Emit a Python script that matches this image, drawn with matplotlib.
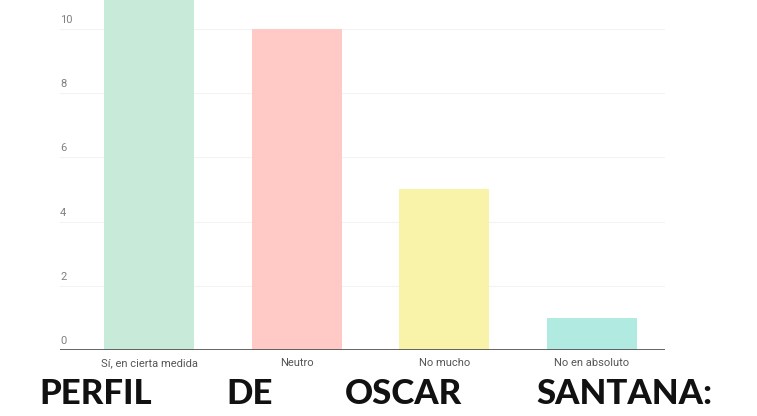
import matplotlib
matplotlib.use("Agg")
import matplotlib.pyplot as plt
import matplotlib.transforms as mtransforms

categories = ["Sí, en cierta medida", "Neutro", "No mucho", "No en absoluto"]
values = [11, 10, 5, 1]
colors = ["#C8EAD9", "#FFC9C5", "#F9F3A9", "#B0EAE0"]
yticks = [0, 2, 4, 6, 8, 10]
title_words = ["PERFIL", "DE", "OSCAR", "SANTANA:"]

W, H = 757, 416
fig = plt.figure(figsize=(W / 100, H / 100), dpi=100)
ax = fig.add_axes([60 / W, 1 - 350 / H, (665 - 60) / W, 350 / H])

x = list(range(len(categories)))
ax.bar(x, values, width=0.61, color=colors, zorder=2)
ax.set_xlim(-0.603, 3.496)
ax.set_ylim(0, 10.9)

for v in yticks[1:]:
    ax.axhline(v, color="#F3F3F3", lw=0.8, zorder=1)
ax.axhline(0, color="#555555", lw=2, zorder=3)

trans = mtransforms.blended_transform_factory(ax.transAxes, ax.transData)
for v in yticks:
    ax.text(0.0, v + 0.12, str(v), transform=trans, ha="left", va="bottom",
            fontsize=8, color="#808080", family="Roboto")

ax.set_xticks(x)
ax.set_xticklabels(categories, fontsize=8, color="#555555", family="Roboto")
ax.tick_params(axis="x", length=0, pad=6)
ax.set_yticks([])
for s in ax.spines.values():
    s.set_visible(False)

lefts = [39, 226, 345, 536]
for word, lx in zip(title_words, lefts):
    fig.text(lx / W, 1 - 404 / H, word, ha="left", va="baseline",
             fontsize=25, fontweight="black", family="Lato", color="#111111")

fig.savefig("out.png", dpi=100)
